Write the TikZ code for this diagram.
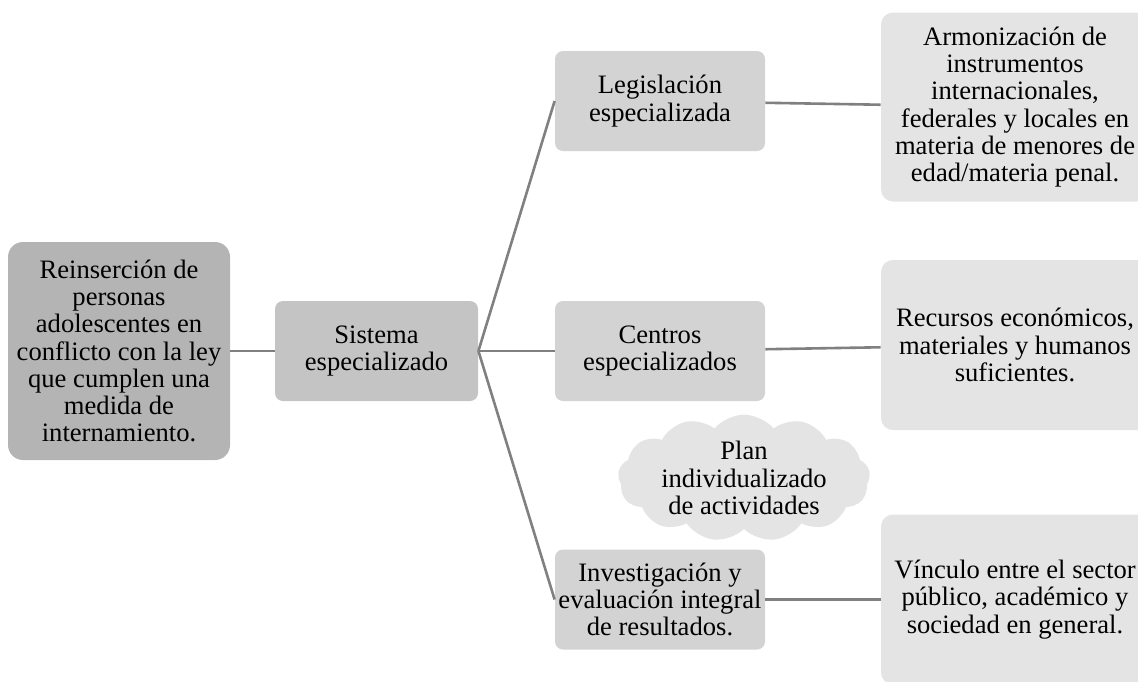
\documentclass[tikz,border=0pt]{standalone}
\usepackage{fontspec}
\setmainfont{Liberation Serif}
\usetikzlibrary{positioning, shapes.symbols}

\definecolor{rootgray}{RGB}{180,180,180}
\definecolor{sisgray}{RGB}{196,196,196}
\definecolor{midgray}{RGB}{211,211,211}
\definecolor{endgray}{RGB}{228,228,228}
\definecolor{linkgray}{RGB}{128,128,128}

\begin{document}
\begin{tikzpicture}[on grid,
    every node/.style={font=\fontsize{13.3}{13.65}\selectfont, align=center, inner sep=0pt},
    rootbox/.style={fill=rootgray, rounded corners=7.5pt, minimum width=111pt, minimum height=109pt},
    sisbox/.style={fill=sisgray, rounded corners=4pt, minimum width=101.5pt, minimum height=50pt},
    midbox/.style={fill=midgray, rounded corners=4pt, minimum width=105pt, minimum height=50pt},
    endbox/.style={fill=endgray, rounded corners=6pt, minimum width=134pt, minimum height=85pt},
    plan/.style={cloud, cloud puffs=13, cloud puff arc=100, cloud ignores aspect, fill=endgray,
      minimum width=126pt, minimum height=47pt},
    link/.style={draw=linkgray, line width=1.3pt}]
  \useasboundingbox (0,0) rectangle (569pt,-340.5pt);

  \node[rootbox] (root) at (59.5pt,-175.5pt)
    {Reinserción de\\personas\\adolescentes en\\conflicto con la ley\\que cumplen una\\medida de\\internamiento.};
  \node[sisbox] (sis) [right=128.75pt of root] {Sistema\\especializado};

  \node[midbox] (leg) [above right=125pt and 141.75pt of sis] {Legislación\\especializada};
  \node[midbox] (cen) [right=141.75pt of sis] {Centros\\especializados};
  \node[midbox] (inv) [below right=124.25pt and 141.75pt of sis] {Investigación y\\evaluación integral\\de resultados.};

  \node[endbox, minimum height=94.5pt] (arm) [below right=3pt and 177.5pt of leg]
    {Armonización de\\instrumentos\\internacionales,\\federales y locales en\\materia de menores de\\edad/materia penal.};
  \node[endbox] (rec) [above right=3pt and 177.5pt of cen] {Recursos económicos,\\materiales y humanos\\suficientes.};
  \node[endbox] (vin) [right=177.5pt of inv] {Vínculo entre el sector\\público, académico y\\sociedad en general.};

  \node[plan] (pia) [below right=63.5pt and 42pt of cen] {Plan\\individualizado\\de actividades};

  \path[link]
    (root) edge (sis)
    (sis.east) edge (leg.west)
    (sis.east) edge (cen.west)
    (sis.east) edge (inv.west)
    (leg) edge (arm)
    (cen) edge (rec)
    (inv) edge (vin);
\end{tikzpicture}
\end{document}
